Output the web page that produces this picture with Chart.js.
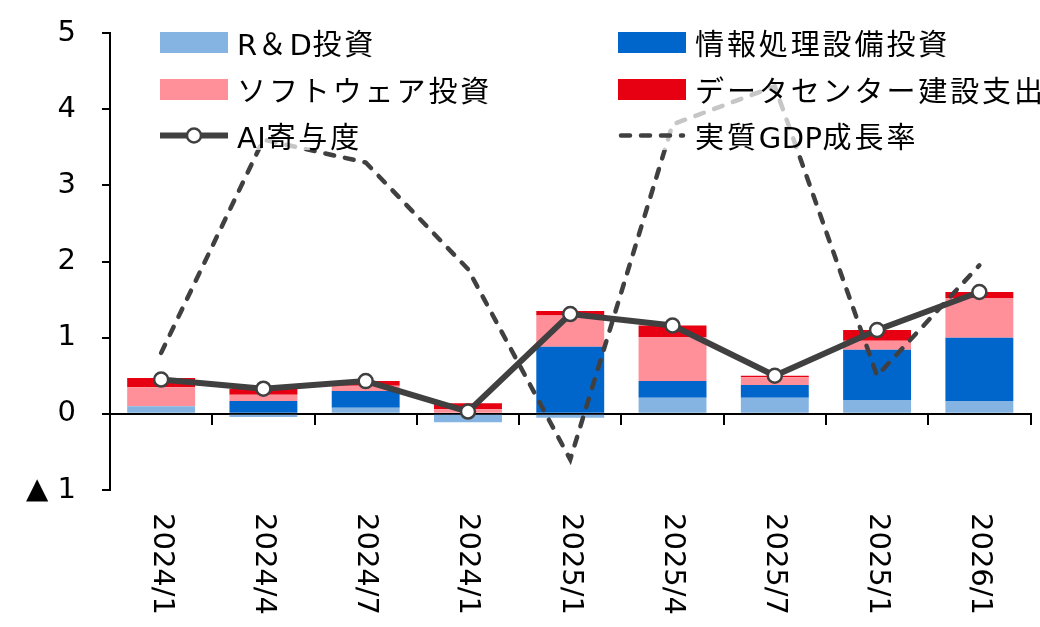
<!DOCTYPE html>
<html>
<head>
<meta charset="utf-8">
<script src="https://cdn.jsdelivr.net/npm/chart.js@4.4.1/dist/chart.umd.min.js"></script>
<style>
  html, body { margin: 0; padding: 0; background: #fff; }
  #wrap { position: relative; width: 1040px; height: 627px; overflow: hidden; }
  #legend {
    position: absolute; left: 150px; top: 14px; width: 890px; height: 136px;
    background: rgba(255, 255, 255, 0.7);
    font-family: "DejaVu Sans", "Noto Sans CJK JP", sans-serif;
    font-size: 29px; letter-spacing: 2.9px; color: #000;
  }
  .item { position: absolute; height: 44px; display: flex; align-items: center; white-space: nowrap; }
  .item .key { flex: none; margin-right: 9px; display: block; }
  .item .latin { letter-spacing: 0.5px; }
</style>
</head>
<body>
<div id="wrap">
  <canvas id="c" width="1040" height="627"></canvas>
  <div id="legend"></div>
</div>
<script>
// Quarter labels along the horizontal axis
const categories = ['2024/1', '2024/4', '2024/7', '2024/1', '2025/1', '2025/4', '2025/7', '2025/1', '2026/1'];

// Contributions of each AI-related investment component (% points)
const rdInvestment       = [0.10, -0.04, 0.08, -0.11, -0.05, 0.21, 0.21, 0.18, 0.17];
const itEquipment        = [0.00,  0.17, 0.22,  0.00,  0.88, 0.22, 0.17, 0.66, 0.83];
const softwareInvestment = [0.25,  0.08, 0.07,  0.06,  0.41, 0.58, 0.10, 0.12, 0.52];
const dataCenterBuild    = [0.12,  0.08, 0.06,  0.08,  0.06, 0.15, 0.02, 0.14, 0.08];

// Total AI contribution and real GDP growth (%)
const aiContribution = [0.45, 0.33, 0.43, 0.03, 1.31, 1.16, 0.50, 1.10, 1.60];
const realGdpGrowth  = [0.8, 3.6, 3.3, 1.9, -0.6, 3.8, 4.3, 0.5, 1.95];

// Value axis range and step
const yMin = -1;
const yMax = 5;
const yStep = 1;

const DARK = '#404040';
const TICK_FONT = { family: 'DejaVu Sans', size: 29 };

const datasets = [
  { type: 'bar', label: 'R＆D投資', data: rdInvestment, backgroundColor: '#85B4E2', stack: 'inv', order: 2 },
  { type: 'bar', label: '情報処理設備投資', data: itEquipment, backgroundColor: '#0066CC', stack: 'inv', order: 2 },
  { type: 'bar', label: 'ソフトウェア投資', data: softwareInvestment, backgroundColor: '#FF8F99', stack: 'inv', order: 2 },
  { type: 'bar', label: 'データセンター建設支出', data: dataCenterBuild, backgroundColor: '#E60012', stack: 'inv', order: 2 },
  { type: 'line', label: 'AI寄与度', data: aiContribution, stack: 'ai', order: 1,
    borderColor: DARK, borderWidth: 6, tension: 0,
    pointRadius: 7, pointHoverRadius: 7, pointBackgroundColor: '#fff',
    pointBorderColor: DARK, pointBorderWidth: 2.5 },
  { type: 'line', label: '実質GDP成長率', data: realGdpGrowth, stack: 'gdp', order: 0,
    borderColor: DARK, borderWidth: 4.5, borderDash: [9, 11], borderCapStyle: 'round',
    tension: 0, pointRadius: 0, pointHoverRadius: 0 }
];

// Category labels below the plot, read top to bottom
const rotatedLabels = {
  id: 'rotatedLabels',
  afterDraw(chart) {
    const { ctx, chartArea } = chart;
    const xs = chart.scales.x;
    ctx.save();
    ctx.font = TICK_FONT.size + 'px "' + TICK_FONT.family + '"';
    ctx.fillStyle = '#000';
    ctx.textAlign = 'left';
    ctx.textBaseline = 'middle';
    categories.forEach((lab, i) => {
      ctx.save();
      ctx.translate(xs.getPixelForValue(i), chartArea.bottom + 23);
      ctx.rotate(Math.PI / 2);
      ctx.fillText(lab, 0, 0);
      ctx.restore();
    });
    ctx.restore();
  }
};

const chart = new Chart(document.getElementById('c'), {
  data: { labels: categories, datasets },
  options: {
    responsive: false,
    animation: false,
    events: [],
    layout: { padding: { top: 33, bottom: 137, right: 8, left: 0 } },
    datasets: { bar: { barPercentage: 0.664, categoryPercentage: 1.0, borderWidth: 0 } },
    plugins: { legend: { display: false }, tooltip: { enabled: false } },
    scales: {
      x: {
        type: 'category', position: { y: 0 }, offset: true, stacked: true,
        ticks: { display: false },
        grid: { offset: true, drawOnChartArea: false, drawTicks: true, tickLength: 10, color: '#000', lineWidth: 2 },
        border: { color: '#000', width: 2 }
      },
      y: {
        min: yMin, max: yMax, stacked: true,
        afterFit(scale) {
          scale.width = 110;
          scale.paddingTop = 0;
          scale.paddingBottom = 0;
        },
        ticks: {
          stepSize: yStep, padding: 26, color: '#000', font: TICK_FONT,
          callback: v => (v < 0 ? '▲ ' + Math.abs(v) : String(v))
        },
        grid: { drawOnChartArea: false, drawTicks: true, tickLength: 8, color: '#000', lineWidth: 2 },
        border: { color: '#000', width: 2 }
      }
    }
  },
  plugins: [rotatedLabels]
});

// Legend laid over the plot with a translucent white backing
(function buildLegend() {
  const box = document.getElementById('legend');
  const boxLeft = 150, boxTop = 14;
  const colX = [160, 618];
  const rowY = [42, 89, 135];
  const NS = 'http://www.w3.org/2000/svg';
  chart.data.datasets.forEach((ds, i) => {
    const item = document.createElement('div');
    item.className = 'item';
    item.style.left = (colX[i % 2] - boxLeft) + 'px';
    item.style.top = (rowY[Math.floor(i / 2)] - boxTop - 22) + 'px';
    let key;
    if (ds.type === 'bar') {
      key = document.createElement('span');
      key.style.width = '68px';
      key.style.height = '21px';
      key.style.background = ds.backgroundColor;
    } else {
      key = document.createElementNS(NS, 'svg');
      key.setAttribute('width', '68');
      key.setAttribute('height', '21');
      const ln = document.createElementNS(NS, 'line');
      ln.setAttribute('x1', ds.borderDash ? '3' : '0');
      ln.setAttribute('x2', ds.borderDash ? '65' : '68');
      ln.setAttribute('y1', '10.5');
      ln.setAttribute('y2', '10.5');
      ln.setAttribute('stroke', ds.borderColor);
      ln.setAttribute('stroke-width', ds.borderWidth);
      if (ds.borderDash) {
        ln.setAttribute('stroke-dasharray', ds.borderDash.join(' '));
        ln.setAttribute('stroke-linecap', 'round');
      }
      key.appendChild(ln);
      if (ds.pointRadius) {
        const c = document.createElementNS(NS, 'circle');
        c.setAttribute('cx', '34');
        c.setAttribute('cy', '10.5');
        c.setAttribute('r', ds.pointRadius);
        c.setAttribute('fill', ds.pointBackgroundColor);
        c.setAttribute('stroke', ds.pointBorderColor);
        c.setAttribute('stroke-width', ds.pointBorderWidth);
        key.appendChild(c);
      }
    }
    key.classList.add('key');
    const txt = document.createElement('span');
    // Latin letters are set tighter than the kana/kanji around them
    ds.label.split(/([A-Za-z]+)/).forEach(part => {
      if (!part) return;
      const run = document.createElement('span');
      if (/^[A-Za-z]+$/.test(part)) run.className = 'latin';
      run.textContent = part;
      txt.appendChild(run);
    });
    item.appendChild(key);
    item.appendChild(txt);
    box.appendChild(item);
  });
})();
</script>
</body>
</html>
